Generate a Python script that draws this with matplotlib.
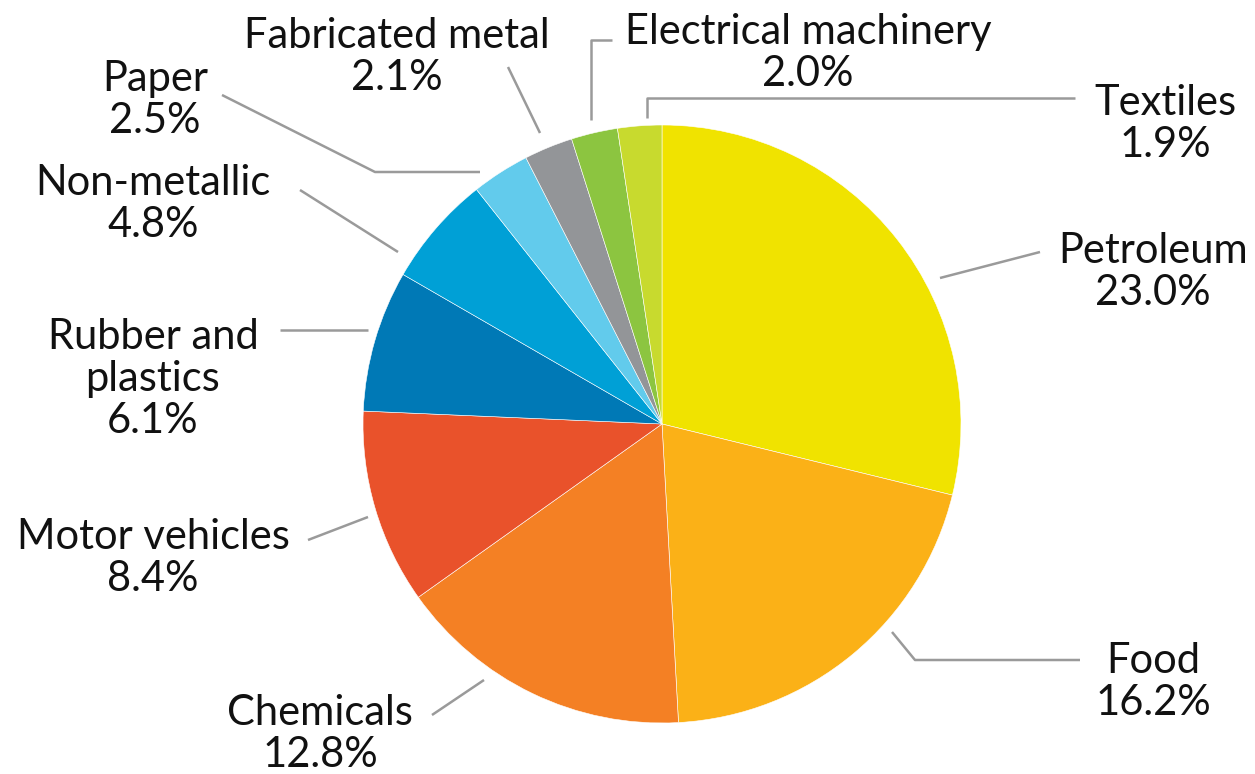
import matplotlib
matplotlib.use("Agg")
import matplotlib.pyplot as plt

# shares of manufacturing output, as labelled on the chart
sectors = ["Petroleum", "Food", "Chemicals", "Motor vehicles", "Rubber and\nplastics",
           "Non-metallic", "Paper", "Fabricated metal", "Electrical machinery", "Textiles"]
shares = [23.0, 16.2, 12.8, 8.4, 6.1, 4.8, 2.5, 2.1, 2.0, 1.9]
colors = ["#F0E300", "#FBB117", "#F48024", "#E9522B", "#0079B6",
          "#00A0D6", "#62CBEC", "#939598", "#8CC540", "#C8DA2E"]

W, H = 1255, 774

# label centres and leader lines in pixel coords (y from top)
label_pos = [(1153, 272), (1153, 682), (320, 734), (153, 558), (153, 379),
             (153, 204), (155, 100), (397, 57), (808, 53), (1165, 124)]
leaders = [
    [(940, 278), (1040, 252)],
    [(892, 632), (915, 660), (1080, 660)],
    [(432, 715), (484, 680)],
    [(308, 540), (368, 517)],
    [(280, 330), (368, 330)],
    [(300, 190), (398, 252)],
    [(222, 95), (375, 172), (480, 172)],
    [(508, 67), (540, 133)],
    [(612, 40), (591, 40), (591, 120)],
    [(1075, 98), (647, 98), (647, 118)],
]

plt.rcParams['font.family'] = ['Lato', 'DejaVu Sans']

fig = plt.figure(figsize=(W / 100, H / 100), dpi=100)
ax = fig.add_axes([0, 0, 1, 1])

ax.pie(shares, colors=colors, startangle=90, counterclock=False,
       center=(662, H - 424), radius=299,
       wedgeprops=dict(edgecolor="white", linewidth=0.4))

ax.set_xlim(0, W)
ax.set_ylim(0, H)
ax.set_aspect("equal")
ax.axis("off")

for name, val, (x, y) in zip(sectors, shares, label_pos):
    ax.text(x, H - y, f"{name}\n{val:.1f}%", ha="center", va="center",
            fontsize=30, color="#111111", linespacing=1.12)

for pts in leaders:
    xs = [p[0] for p in pts]
    ys = [H - p[1] for p in pts]
    ax.plot(xs, ys, color="#9a9a9a", lw=1.8, solid_capstyle="butt")

fig.savefig("out.png", dpi=100)
